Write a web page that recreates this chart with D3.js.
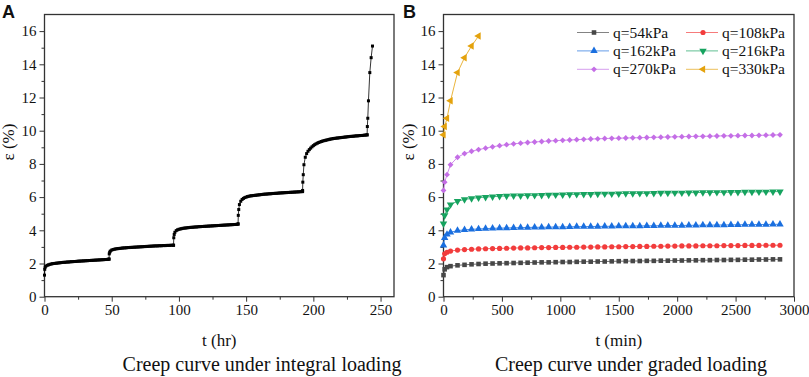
<!DOCTYPE html>
<html>
<head>
<meta charset="utf-8">
<script src="https://cdn.jsdelivr.net/npm/d3@7"></script>
<style>
  body { margin: 0; background: #fff; }
  svg { display: block; font-family: "Liberation Serif", "Times New Roman", serif; }
</style>
</head>
<body>
<div id="d3-container"></div>
<script>
/**
 * CONSTANTS AND GLOBALS
 * */
const width = 809, height = 377;

// sampling times of the graded test (min)
const tMin = [0, 10, 30, 60, 120, 180, 240, 300, 360, 420,
  480, 540, 600, 660, 720, 780, 840, 900, 960, 1020,
  1080, 1140, 1200, 1260, 1320, 1380, 1440, 1500, 1560, 1620,
  1680, 1740, 1800, 1860, 1920, 1980, 2040, 2100, 2160, 2220,
  2280, 2340, 2400, 2460, 2520, 2580, 2640, 2700, 2760, 2820, 2880];

const q54 = [1.30, 1.65, 1.78, 1.84, 1.89, 1.92, 1.95, 1.97, 1.99, 2.00,
  2.01, 2.02, 2.03, 2.04, 2.05, 2.06, 2.07, 2.07, 2.08, 2.09,
  2.09, 2.10, 2.11, 2.11, 2.12, 2.12, 2.13, 2.14, 2.14, 2.15,
  2.15, 2.16, 2.16, 2.17, 2.17, 2.18, 2.18, 2.19, 2.19, 2.20,
  2.20, 2.21, 2.21, 2.22, 2.22, 2.23, 2.23, 2.24, 2.24, 2.25, 2.25];
const q108 = [2.28, 2.58, 2.68, 2.75, 2.81, 2.84, 2.86, 2.88, 2.89, 2.90,
  2.91, 2.92, 2.93, 2.94, 2.94, 2.95, 2.96, 2.96, 2.97, 2.97,
  2.98, 2.98, 2.99, 2.99, 3.00, 3.00, 3.01, 3.01, 3.02, 3.02,
  3.03, 3.03, 3.04, 3.04, 3.05, 3.05, 3.06, 3.06, 3.06, 3.07,
  3.07, 3.07, 3.08, 3.08, 3.08, 3.09, 3.09, 3.09, 3.10, 3.10, 3.10];
const q162 = [3.10, 3.55, 3.75, 3.88, 3.98, 4.03, 4.06, 4.08, 4.10, 4.12,
  4.13, 4.14, 4.15, 4.16, 4.17, 4.18, 4.18, 4.19, 4.20, 4.20,
  4.21, 4.22, 4.22, 4.23, 4.23, 4.24, 4.24, 4.25, 4.25, 4.26,
  4.26, 4.27, 4.27, 4.28, 4.28, 4.29, 4.29, 4.30, 4.30, 4.31,
  4.31, 4.32, 4.32, 4.33, 4.33, 4.34, 4.34, 4.35, 4.35, 4.36, 4.36];
const q216 = [4.40, 4.90, 5.25, 5.55, 5.75, 5.86, 5.92, 5.97, 6.00, 6.03,
  6.05, 6.07, 6.08, 6.09, 6.10, 6.11, 6.12, 6.13, 6.14, 6.15,
  6.16, 6.17, 6.18, 6.18, 6.19, 6.20, 6.20, 6.21, 6.22, 6.22,
  6.23, 6.23, 6.24, 6.25, 6.25, 6.26, 6.26, 6.27, 6.27, 6.28,
  6.28, 6.29, 6.29, 6.30, 6.30, 6.31, 6.31, 6.32, 6.32, 6.33, 6.33];
const q270 = [6.40, 6.90, 7.35, 7.95, 8.40, 8.62, 8.76, 8.86, 8.95, 9.03,
  9.10, 9.16, 9.21, 9.25, 9.29, 9.32, 9.35, 9.38, 9.40, 9.42,
  9.44, 9.46, 9.48, 9.50, 9.51, 9.53, 9.54, 9.55, 9.56, 9.57,
  9.58, 9.59, 9.60, 9.61, 9.62, 9.63, 9.64, 9.65, 9.66, 9.66,
  9.67, 9.68, 9.69, 9.69, 9.70, 9.71, 9.71, 9.72, 9.73, 9.74, 9.75];
const q330 = [9.75, 10.25, 10.75, 11.80, 13.50, 14.40, 15.10, 15.70];

const loadNames = ["q=54kPa", "q=108kPa", "q=162kPa", "q=216kPa", "q=270kPa", "q=330kPa"];
const stageHours = 48; // each load step lasted 48 hr

const xTicksA = [0, 50, 100, 150, 200, 250];
const xTicksB = [0, 500, 1000, 1500, 2000, 2500, 3000];
const yTicks = [0, 2, 4, 6, 8, 10, 12, 14, 16];

const colors = ["#474747", "#f23c3c", "#1a6fdf", "#16a35f", "#c46ee6", "#e4a20c"];
const symbols = [
  { type: d3.symbolSquare, size: 21, rot: 0 },
  { type: d3.symbolCircle, size: 21, rot: 0 },
  { type: d3.symbolTriangle, size: 24, rot: 0 },
  { type: d3.symbolTriangle, size: 24, rot: 180 },
  { type: d3.symbolSquare, size: 17, rot: 45 },
  { type: d3.symbolTriangle, size: 24, rot: -90 },
];

const series = [q54, q108, q162, q216, q270, q330].map((vals, i) => ({
  name: loadNames[i],
  points: vals.map((v, j) => ({ t: tMin[j], e: v })),
}));

// integral loading curve: the six steps joined end to end (hr);
// the last reading of the final step is not in the integral record
const integral = series.flatMap((s, k) => {
  const pts = k === series.length - 1 ? s.points.slice(0, -1) : s.points;
  return pts.map(p => ({ t: k * stageHours + p.t / 60, e: p.e }));
});

const svg = d3.select("#d3-container").append("svg")
  .attr("width", width).attr("height", height);

const yScale = d3.scaleLinear([0, 17], [296.7, 14.5]);
const xA = d3.scaleLinear([0, 260], [44.5, 394]);
const xB = d3.scaleLinear([0, 3000], [443.5, 794]);

function drawFrame(x, xTicks, xMinor, yLabelX, xLabel, caption, captionX, letter, letterX) {
  const [left, right] = x.range();
  const g = svg.append("g");

  // minor ticks
  g.append("g").attr("transform", `translate(0,${yScale(0)})`)
    .call(d3.axisBottom(x).tickValues(xMinor).tickSize(3).tickFormat(""));
  g.append("g").attr("transform", `translate(${left},0)`)
    .call(d3.axisLeft(yScale).tickValues(d3.range(1, 17, 2)).tickSize(3).tickFormat(""));

  // major ticks + labels
  g.append("g").attr("transform", `translate(0,${yScale(0)})`)
    .call(d3.axisBottom(x).tickValues(xTicks).tickSize(5).tickPadding(3).tickFormat(d3.format("d")));
  g.append("g").attr("transform", `translate(${left},0)`)
    .call(d3.axisLeft(yScale).tickValues(yTicks).tickSize(5).tickPadding(3).tickFormat(d3.format("d")));

  g.selectAll(".domain").remove();
  g.selectAll(".tick line").attr("stroke", "#333").attr("stroke-width", 1);
  g.selectAll(".tick text").attr("font-size", 15).attr("fill", "#111")
    .attr("font-family", "'Liberation Serif', 'Times New Roman', serif");

  g.append("rect")
    .attr("x", left).attr("y", yScale(17))
    .attr("width", right - left).attr("height", yScale(0) - yScale(17))
    .attr("fill", "none").attr("stroke", "#333").attr("stroke-width", 1.3);

  svg.append("text")
    .attr("transform", `translate(${yLabelX},142) rotate(-90)`)
    .attr("text-anchor", "middle").attr("font-size", 17).attr("fill", "#111")
    .text("ε (%)");
  svg.append("text")
    .attr("x", (left + right) / 2).attr("y", 346)
    .attr("text-anchor", "middle").attr("font-size", 17).attr("fill", "#111")
    .text(xLabel);
  svg.append("text")
    .attr("x", captionX).attr("y", 371)
    .attr("text-anchor", "middle").attr("font-size", 20).attr("fill", "#111")
    .text(caption);
  svg.append("text")
    .attr("x", letterX).attr("y", 18)
    .attr("font-family", "'Liberation Sans', Arial, sans-serif")
    .attr("font-weight", "bold").attr("font-size", 18).attr("fill", "#111")
    .text(letter);
}

drawFrame(xA, xTicksA, d3.range(25, 260, 50), 14, "t (hr)",
  "Creep curve under integral loading", 262, "A", 2);
drawFrame(xB, xTicksB, d3.range(250, 3000, 500), 414, "t (min)",
  "Creep curve under graded loading", 631, "B", 403);

// panel A: integral loading
const lineA = d3.line().x(d => xA(d.t)).y(d => yScale(d.e));
svg.append("path").datum(integral)
  .attr("d", lineA).attr("fill", "none").attr("stroke", "#000").attr("stroke-width", 0.8);
svg.append("g").selectAll("rect")
  .data(integral)
  .join("rect")
  .attr("x", d => xA(d.t) - 1.5).attr("y", d => yScale(d.e) - 1.5)
  .attr("width", 3).attr("height", 3).attr("fill", "#000");

// panel B: graded loading
const lineB = d3.line().x(d => xB(d.t)).y(d => yScale(d.e));
const symPath = s => d3.symbol().type(s.type).size(s.size)();

series.forEach((s, i) => {
  const g = svg.append("g");
  g.append("path").datum(s.points)
    .attr("d", lineB).attr("fill", "none")
    .attr("stroke", colors[i]).attr("stroke-width", 0.8);
  g.selectAll("path.mark")
    .data(s.points)
    .join("path")
    .attr("class", "mark")
    .attr("d", symPath(symbols[i]))
    .attr("transform", d => `translate(${xB(d.t)},${yScale(d.e)}) rotate(${symbols[i].rot})`)
    .attr("fill", colors[i]);
});

// legend, two columns
const legend = svg.append("g");
series.forEach((s, i) => {
  const col = i % 2, row = Math.floor(i / 2);
  const x0 = col === 0 ? 577 : 686;
  const y = 32.5 + row * 18.4;
  legend.append("line")
    .attr("x1", x0).attr("x2", x0 + 32).attr("y1", y).attr("y2", y)
    .attr("stroke", colors[i]).attr("stroke-width", 0.9).attr("opacity", 0.75);
  legend.append("path")
    .attr("d", symPath(symbols[i]))
    .attr("transform", `translate(${x0 + 17},${y}) rotate(${symbols[i].rot})`)
    .attr("fill", colors[i]);
  legend.append("text")
    .attr("x", x0 + 36).attr("y", y + 5)
    .attr("font-size", 15.5).attr("fill", "#111")
    .text(s.name);
});
</script>
</body>
</html>
